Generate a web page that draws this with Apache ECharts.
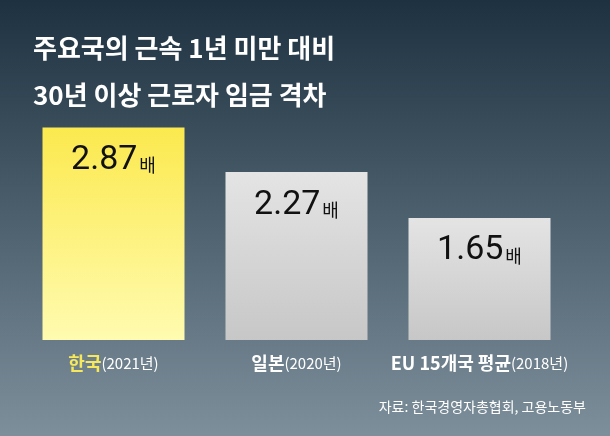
<!DOCTYPE html>
<html><head><meta charset="utf-8">
<script src="https://cdn.jsdelivr.net/npm/echarts@6/dist/echarts.min.js"></script>
<style>html,body{margin:0;padding:0}#c{width:610px;height:436px}</style>
</head><body><div id="c"></div>
<script>
const countries = ['한국', '일본', 'EU 15개국 평균'];
const years = ['(2021년)', '(2020년)', '(2018년)'];
const values = [2.87, 2.27, 1.65];
const titleLines = ['주요국의 근속 1년 미만 대비', '30년 이상 근로자 임금 격차'];
const source = '자료: 한국경영자총협회, 고용노동부';
const F = '"Noto Sans CJK KR", sans-serif';
const chart = echarts.init(document.getElementById('c'));
const grad = (a, b) => new echarts.graphic.LinearGradient(0, 0, 0, 1, [{offset: 0, color: a}, {offset: 1, color: b}]);
chart.setOption({
  backgroundColor: grad('#1d3140', '#7d8f9b'),
  title: {text: titleLines.join('\n'), left: 28, top: 20,
    textStyle: {color: '#fff', fontFamily: F, fontSize: 26, fontWeight: 'bold', lineHeight: 47}},
  graphic: [{type: 'text', right: 24, top: 400, style: {text: source, fill: '#fff', font: '14px ' + F}}],
  grid: {left: 22, right: 39, top: 81, bottom: 96},
  xAxis: {type: 'category', data: countries, axisLine: {show: false}, axisTick: {show: false},
    axisLabel: {margin: 14, interval: 0, hideOverlap: false,
      formatter: (v, i) => (i === 0 ? '{y|' : '{b|') + v + '}{n|' + years[i] + '}',
      rich: {b: {fontFamily: F, fontSize: 18, fontWeight: 'bold', color: '#fff'},
             y: {fontFamily: F, fontSize: 18, fontWeight: 'bold', color: '#f6e85a'},
             n: {fontFamily: F, fontSize: 15, color: '#fff'}}}},
  yAxis: {type: 'value', min: 0, max: 3.5, show: false, splitLine: {show: false}},
  series: [{type: 'bar', barWidth: 142,
    data: values.map((v, i) => ({value: v, itemStyle: {color: i === 0 ? grad('#fbe94e', '#fffbb0') : grad('#e4e4e4', '#c7c7c7')}})),
    label: {show: true, position: 'insideTop', distance: 16,
      formatter: p => '{v|' + p.value.toFixed(2) + '}{u|배}',
      rich: {v: {fontFamily: 'Roboto, sans-serif', fontSize: 34, color: '#111'}, u: {fontFamily: F, fontSize: 18, color: '#111', padding: [10, 0, 0, 2]}}}}]
});
</script></body></html>
